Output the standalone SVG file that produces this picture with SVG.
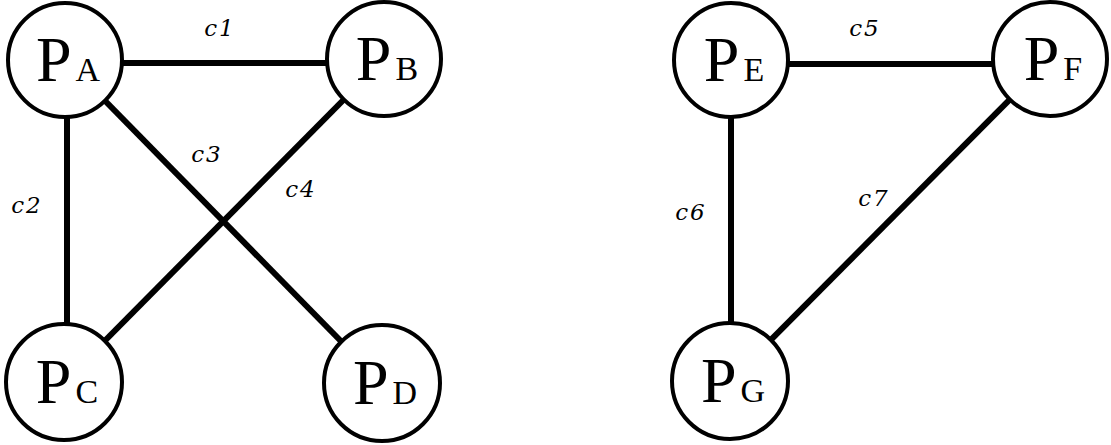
<svg xmlns="http://www.w3.org/2000/svg" width="1111" height="445" viewBox="0 0 1111 445">
<style>
.edge{stroke:#000;stroke-width:6;fill:none}
.node circle{fill:#fff;stroke:#000;stroke-width:4}
.nl{font-family:"Liberation Serif","Times New Roman",serif;fill:#000;text-anchor:middle}
.p{font-size:64px}
.s{font-size:34px}
.el{font-family:"DejaVu Serif",serif;font-style:italic;font-size:23px;letter-spacing:2px;fill:#000;text-anchor:middle}
</style>
<rect width="1111" height="445" fill="#fff"/>
<g id="connectors">
<line class="edge" x1="65" y1="63" x2="384" y2="63"/>
<line class="edge" x1="67" y1="60" x2="67" y2="382"/>
<line class="edge" x1="65" y1="60" x2="382" y2="383"/>
<line class="edge" x1="384" y1="59" x2="64" y2="382"/>
<line class="edge" x1="731" y1="64" x2="1050" y2="64"/>
<line class="edge" x1="731" y1="60" x2="731" y2="381"/>
<line class="edge" x1="1050" y1="59" x2="730" y2="381"/>
<text class="el" x="220" y="36">c1</text>
<text class="el" x="27" y="213">c2</text>
<text class="el" x="207" y="162">c3</text>
<text class="el" x="301" y="197">c4</text>
<text class="el" x="865" y="36">c5</text>
<text class="el" x="691" y="220">c6</text>
<text class="el" x="874" y="206">c7</text>
</g>
<g id="PA" class="node"><circle cx="65" cy="60" r="57"/><text class="nl" x="68" y="81"><tspan class="p">P</tspan><tspan class="s" dx="4">A</tspan></text></g>
<g id="PB" class="node"><circle cx="384" cy="59" r="57"/><text class="nl" x="387" y="80"><tspan class="p">P</tspan><tspan class="s" dx="4">B</tspan></text></g>
<g id="PC" class="node"><circle cx="64" cy="382" r="58"/><text class="nl" x="67" y="403"><tspan class="p">P</tspan><tspan class="s" dx="4">C</tspan></text></g>
<g id="PD" class="node"><circle cx="382" cy="383" r="58"/><text class="nl" x="385" y="404"><tspan class="p">P</tspan><tspan class="s" dx="4">D</tspan></text></g>
<g id="PE" class="node"><circle cx="731" cy="60" r="57"/><text class="nl" x="734" y="81"><tspan class="p">P</tspan><tspan class="s" dx="4">E</tspan></text></g>
<g id="PF" class="node"><circle cx="1050" cy="59" r="57"/><text class="nl" x="1053" y="80"><tspan class="p">P</tspan><tspan class="s" dx="4">F</tspan></text></g>
<g id="PG" class="node"><circle cx="730" cy="381" r="58"/><text class="nl" x="733" y="402"><tspan class="p">P</tspan><tspan class="s" dx="4">G</tspan></text></g>
</svg>
